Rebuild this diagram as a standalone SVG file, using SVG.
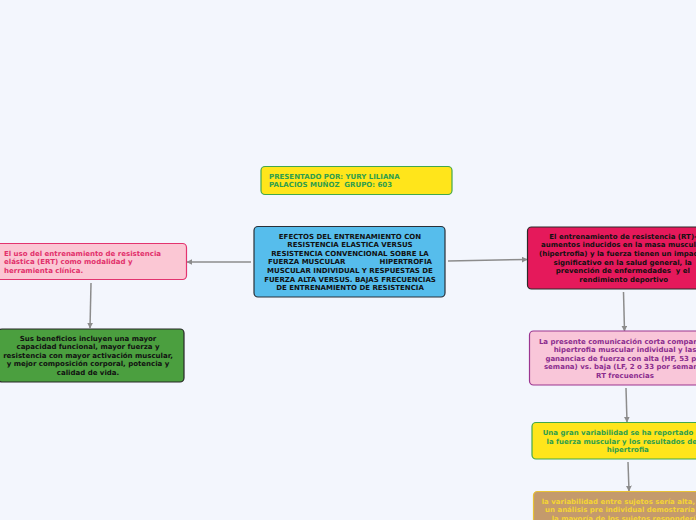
<svg xmlns="http://www.w3.org/2000/svg" width="696" height="520" viewBox="0 0 696 520">
<defs>
<marker id="ah" viewBox="0 0 10 10" refX="9" refY="5" markerWidth="6" markerHeight="6" markerUnits="userSpaceOnUse" orient="auto">
<path d="M0,0 L10,5 L0,10 Z" fill="#8c8c8c"/>
</marker>
<style>
text{font-family:"DejaVu Sans",Verdana,sans-serif;font-weight:bold;font-size:7px;white-space:pre}
.c{text-anchor:middle}
.box{stroke-width:1.2}
.conn{stroke:#8c8c8c;stroke-width:1.5;fill:none;marker-end:url(#ah)}
</style>
</defs>
<rect width="696" height="520" fill="#f3f6fd"/>
<g id="connectors">
<line class="conn" x1="251" y1="262" x2="187" y2="262"/>
<line class="conn" x1="448" y1="261" x2="527" y2="259.5"/>
<line class="conn" x1="91" y1="283" x2="90" y2="328"/>
<line class="conn" x1="623.5" y1="292" x2="624.5" y2="331"/>
<line class="conn" x1="626" y1="388" x2="627" y2="422"/>
<line class="conn" x1="628" y1="462" x2="629" y2="491"/>
</g>
<g id="author">
<rect class="box" x="261" y="166.5" width="191" height="28" rx="4" fill="#ffe51b" stroke="#42a84c"/>
<text fill="#2e9e4e" xml:space="preserve"><tspan x="269" y="178.5">PRESENTADO POR: YURY LILIANA</tspan><tspan x="269" y="186.8">PALACIOS MUÑOZ  GRUPO: 603</tspan></text>
</g>
<g id="central">
<rect class="box" x="254" y="226.5" width="191" height="70.5" rx="4" fill="#56bdec" stroke="#2a3038"/>
<text class="c" fill="#111" xml:space="preserve"><tspan x="350" y="238.5">EFECTOS DEL ENTRENAMIENTO CON</tspan><tspan x="350" y="247.1">RESISTENCIA ELASTICA VERSUS</tspan><tspan x="350" y="255.7">RESISTENCIA CONVENCIONAL SOBRE LA</tspan><tspan x="350" y="264.3">FUERZA MUSCULAR              HIPERTROFIA</tspan><tspan x="350" y="272.9">MUSCULAR INDIVIDUAL Y RESPUESTAS DE</tspan><tspan x="350" y="281.5">FUERZA ALTA VERSUS. BAJAS FRECUENCIAS</tspan><tspan x="350" y="290.1">DE ENTRENAMIENTO DE RESISTENCIA</tspan></text>
</g>
<g id="ert">
<rect class="box" x="-6" y="243.5" width="192.5" height="36" rx="4" fill="#fbc7d4" stroke="#e3346f"/>
<text fill="#e2306b"><tspan x="4" y="255.8">El uso del entrenamiento de resistencia</tspan><tspan x="4" y="264.2">elástica (ERT) como modalidad y</tspan><tspan x="4" y="272.5">herramienta clínica.</tspan></text>
</g>
<g id="beneficios">
<rect class="box" x="-2" y="329" width="186" height="53" rx="4" fill="#4b9f3f" stroke="#262626"/>
<text class="c" fill="#111"><tspan x="88" y="340.8">Sus beneficios incluyen una mayor</tspan><tspan x="88" y="349.2">capacidad funcional, mayor fuerza y</tspan><tspan x="88" y="357.5">resistencia con mayor activación muscular,</tspan><tspan x="88" y="366.2">y mejor composición corporal, potencia y</tspan><tspan x="88" y="374.5">calidad de vida.</tspan></text>
</g>
<g id="rt">
<rect class="box" x="527.5" y="227" width="190" height="62" rx="4" fill="#e5195b" stroke="#2a2a2a"/>
<text fill="#111" xml:space="preserve"><tspan x="549.3" y="238.5">El entrenamiento de resistencia (RT)-</tspan><tspan x="541" y="247.2">aumentos inducidos en la masa muscular</tspan><tspan x="539" y="255.8">(hipertrofia) y la fuerza tienen un impacto</tspan><tspan x="553.5" y="264.5">significativo en la salud general, la</tspan><tspan x="555.7" y="272.8">prevención de enfermedades  y el</tspan><tspan x="579.3" y="281.5">rendimiento deportivo</tspan></text>
</g>
<g id="comunicacion">
<rect class="box" x="529.5" y="331" width="192" height="54" rx="4" fill="#f9c6d9" stroke="#9b3590"/>
<text class="c" fill="#8b2c8e"><tspan x="625" y="343.8">La presente comunicación corta compara la</tspan><tspan x="625" y="352.2">hipertrofia muscular individual y las</tspan><tspan x="625" y="360.5">ganancias de fuerza con alta (HF, 53 por</tspan><tspan x="625" y="369.2">semana) vs. baja (LF, 2 o 33 por semana)</tspan><tspan x="625" y="377.5">RT frecuencias</tspan></text>
</g>
<g id="variabilidad">
<rect class="box" x="532" y="422.5" width="192" height="36.5" rx="4" fill="#ffe51b" stroke="#42a84c"/>
<text fill="#2e9e4e"><tspan x="542.7" y="435.2">Una gran variabilidad se ha reportado para</tspan><tspan x="546.5" y="443.5">la fuerza muscular y los resultados de la</tspan><tspan x="606.7" y="451.8">hipertrofia</tspan></text>
</g>
<g id="sujetos">
<rect class="box" x="533.5" y="491.5" width="192" height="50" rx="4" fill="#c49a6c" stroke="#e9c232"/>
<text fill="#f4d434"><tspan x="541.7" y="503.5">la variabilidad entre sujetos sería alta, y</tspan><tspan x="545" y="512.2">un análisis pre individual demostraría que</tspan><tspan x="551.7" y="520.5">la mayoría de los sujetos responderían</tspan></text>
</g>
</svg>
